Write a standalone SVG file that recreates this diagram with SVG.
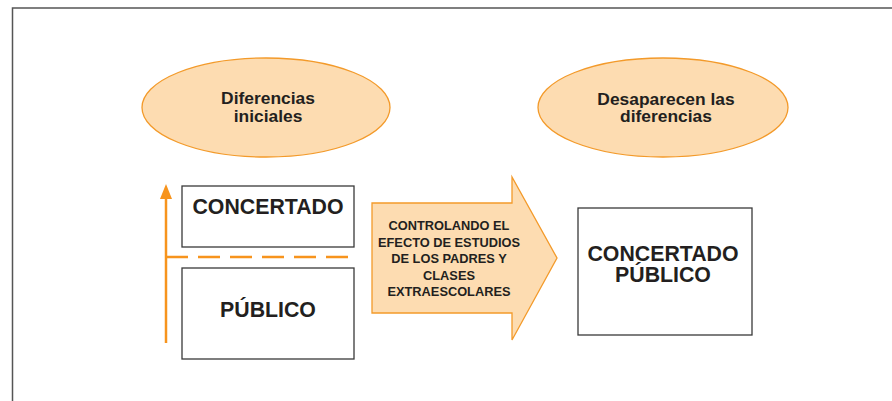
<svg xmlns="http://www.w3.org/2000/svg" width="892" height="401" viewBox="0 0 892 401">
<style>
.ell{fill:#fddcb1;stroke:#f39a2a;stroke-width:1.3}
.box{fill:#fff;stroke:#3a3a3a;stroke-width:1.3}
.t{font-family:"Liberation Sans",Arial,sans-serif;font-weight:bold;fill:#231f20;text-anchor:middle}
.s17{font-size:17.4px}
.s21{font-size:21.3px}
.s12{font-size:12.8px}
.or{stroke:#f7941d;stroke-width:2.5;fill:none}
</style>
<rect width="892" height="401" fill="#fff"/>
<path d="M12.5,401 V8 H892" fill="none" stroke="#555" stroke-width="1.5"/>
<g id="ellipse-initial">
<ellipse class="ell" cx="266" cy="107.5" rx="124" ry="49.5"/>
<text class="t s17" x="268" y="104">Diferencias</text>
<text class="t s17" x="268" y="122">iniciales</text>
</g>
<g id="ellipse-final">
<ellipse class="ell" cx="663" cy="107.5" rx="125" ry="49.5"/>
<text class="t s17" x="666" y="105">Desaparecen las</text>
<text class="t s17" x="666" y="122">diferencias</text>
</g>
<g id="box-concertado">
<rect class="box" x="182" y="186" width="172" height="61"/>
<text class="t s21" x="268" y="214">CONCERTADO</text>
</g>
<g id="box-publico">
<rect class="box" x="182" y="268" width="172" height="91"/>
<text class="t s21" x="268" y="317">PÚBLICO</text>
</g>
<g id="connectors">
<line class="or" x1="166" y1="343" x2="166" y2="197"/>
<polygon points="166,184 160,199 172,199" fill="#f7941d"/>
<line class="or" x1="166" y1="257" x2="348" y2="257" stroke-dasharray="22 10"/>
</g>
<g id="arrow-control">
<polygon points="372,203 512,203 512,177 557,258 512,340 512,313 372,313" fill="#fddcb1" stroke="#f39a2a" stroke-width="1.3"/>
<text class="t s12" x="449" y="230">CONTROLANDO EL</text>
<text class="t s12" x="449" y="247">EFECTO DE ESTUDIOS</text>
<text class="t s12" x="449" y="263">DE LOS PADRES Y</text>
<text class="t s12" x="449" y="280">CLASES</text>
<text class="t s12" x="449" y="296">EXTRAESCOLARES</text>
</g>
<g id="box-result">
<rect class="box" x="578" y="208" width="174" height="127"/>
<text class="t s21" x="663" y="261">CONCERTADO</text>
<text class="t s21" x="663" y="282">PÚBLICO</text>
</g>
</svg>
